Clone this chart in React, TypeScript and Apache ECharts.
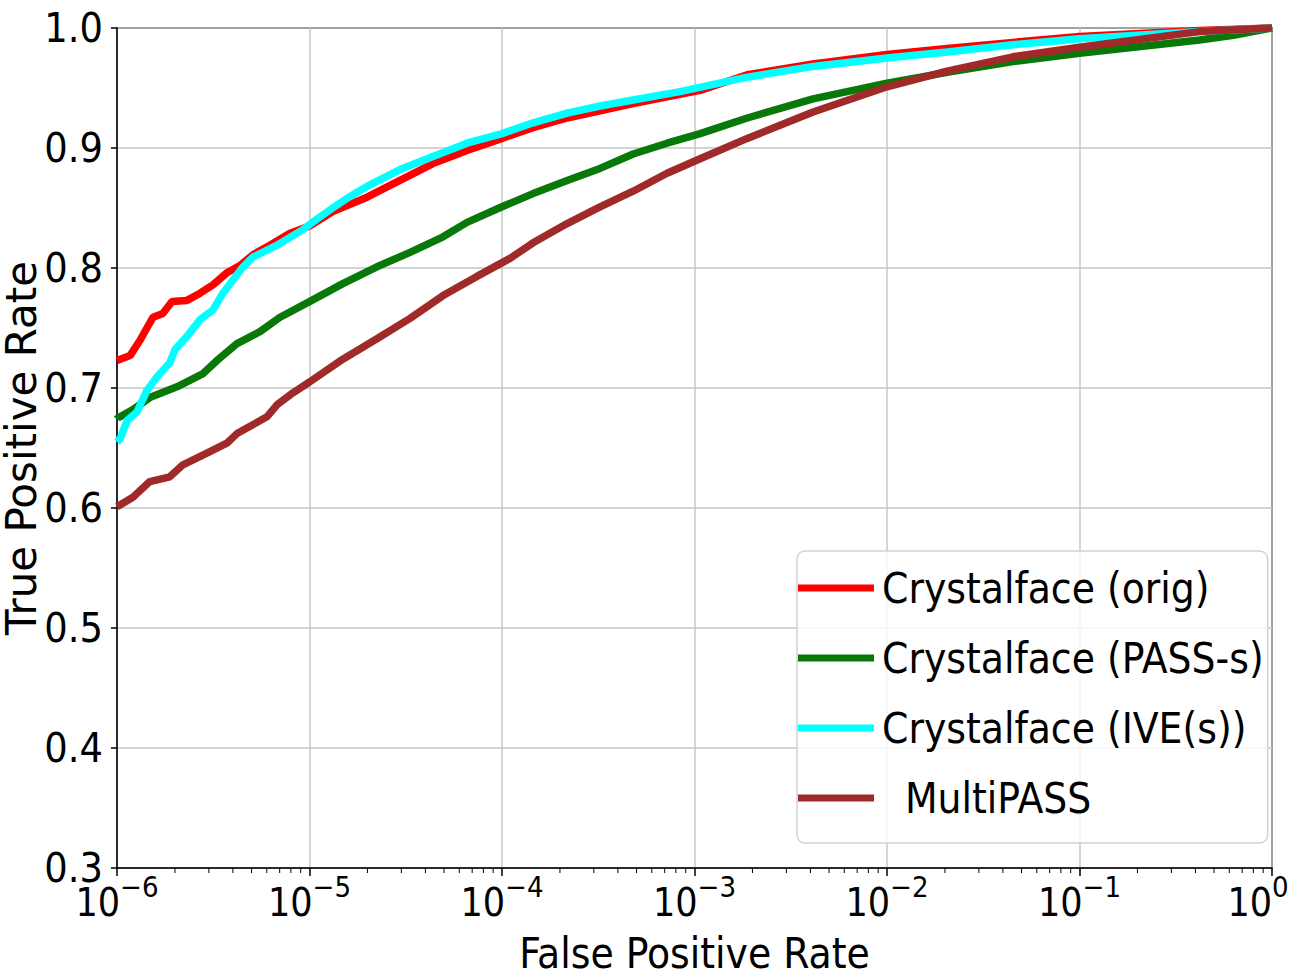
import React, { useEffect, useRef } from "react";
import * as echarts from "echarts";

const seriesNames = ["Crystalface (orig)", "Crystalface (PASS-s)", "Crystalface (IVE(s))", "MultiPASS"];
const seriesColors = ["#ff0000", "#087808", "#00ffff", "#a02a2a"];

const origData: [number, number][] = [
  [1e-6, 0.723], [1.17e-6, 0.727], [1.32e-6, 0.74], [1.43e-6, 0.75], [1.54e-6, 0.759], [1.73e-6, 0.762],
  [1.93e-6, 0.772], [2.31e-6, 0.773], [2.7e-6, 0.779], [3.15e-6, 0.786], [3.72e-6, 0.796], [4.35e-6, 0.802],
  [5.08e-6, 0.811], [6.23e-6, 0.819], [7.92e-6, 0.829], [1e-5, 0.835], [1.15e-5, 0.841], [1.32e-5, 0.847],
  [1.99e-5, 0.859], [2.95e-5, 0.873], [4.38e-5, 0.887], [6.58e-5, 0.898], [1e-4, 0.908], [1.45e-4, 0.917],
  [2.18e-4, 0.925], [4.8e-4, 0.937], [1.07e-3, 0.948], [1.88e-3, 0.961], [4.13e-3, 0.97], [1e-2, 0.978],
  [2.05e-2, 0.983], [4.51e-2, 0.988], [0.1, 0.993], [0.42, 0.998], [1, 1.0],
];

const passData: [number, number][] = [
  [1e-6, 0.674], [1.01e-6, 0.675], [1.21e-6, 0.682], [1.48e-6, 0.692], [2.05e-6, 0.701], [2.8e-6, 0.712],
  [3.31e-6, 0.723], [4.2e-6, 0.737], [5.53e-6, 0.747], [7.03e-6, 0.759], [1e-5, 0.772], [1.49e-5, 0.787],
  [2.24e-5, 0.801], [3.33e-5, 0.813], [4.94e-5, 0.826], [6.58e-5, 0.838], [1e-4, 0.851], [1.45e-4, 0.862],
  [2.18e-4, 0.873], [3.23e-4, 0.883], [4.8e-4, 0.895], [7.2e-4, 0.904], [1.07e-3, 0.912], [1.88e-3, 0.925],
  [4.13e-3, 0.941], [1e-2, 0.954], [2.05e-2, 0.963], [4.51e-2, 0.972], [0.1, 0.979], [0.42, 0.99],
  [0.63, 0.994], [1, 1.0],
];

const iveData: [number, number][] = [
  [1e-6, 0.655], [1.04e-6, 0.658], [1.13e-6, 0.673], [1.27e-6, 0.68], [1.43e-6, 0.698], [1.61e-6, 0.709],
  [1.88e-6, 0.721], [2.0e-6, 0.732], [2.31e-6, 0.743], [2.7e-6, 0.757], [3.15e-6, 0.765], [3.55e-6, 0.779],
  [4.0e-6, 0.79], [4.52e-6, 0.801], [5.08e-6, 0.809], [6.78e-6, 0.819], [9.25e-6, 0.832], [1.1e-5, 0.841],
  [1.32e-5, 0.85], [1.6e-5, 0.859], [1.99e-5, 0.868], [2.95e-5, 0.882], [4.38e-5, 0.893], [6.58e-5, 0.904],
  [1e-4, 0.912], [1.45e-4, 0.921], [2.18e-4, 0.929], [3.23e-4, 0.935], [4.8e-4, 0.94], [8.41e-4, 0.947],
  [1.88e-3, 0.959], [4.13e-3, 0.968], [1e-2, 0.975], [2.05e-2, 0.98], [4.51e-2, 0.986], [0.1, 0.991],
  [0.42, 0.997], [1, 1.0],
];

const multiData: [number, number][] = [
  [1e-6, 0.601], [1.21e-6, 0.609], [1.48e-6, 0.622], [1.88e-6, 0.626], [2.2e-6, 0.636], [3.04e-6, 0.647],
  [3.72e-6, 0.654], [4.2e-6, 0.662], [6.01e-6, 0.676], [6.78e-6, 0.686], [8.21e-6, 0.696], [1e-5, 0.705],
  [1.49e-5, 0.724], [2.24e-5, 0.741], [3.33e-5, 0.758], [4.94e-5, 0.777], [7.41e-5, 0.793], [1.1e-4, 0.808],
  [1.45e-4, 0.821], [2.18e-4, 0.837], [3.23e-4, 0.851], [4.8e-4, 0.864], [7.2e-4, 0.879], [1.07e-3, 0.891],
  [1.88e-3, 0.908], [4.13e-3, 0.93], [1e-2, 0.951], [2.05e-2, 0.964], [4.51e-2, 0.976], [0.1, 0.984],
  [0.42, 0.997], [1, 1.0],
];

const decades = [1e-6, 1e-5, 1e-4, 1e-3, 1e-2, 1e-1];
const minorMultipliers = [2, 3, 4, 5, 6, 7, 8, 9];
const yTickLabels = ["0.3", "0.4", "0.5", "0.6", "0.7", "0.8", "0.9", "1.0"];

const FONT = "'DejaVu Sans Condensed', 'Liberation Sans Narrow', 'DejaVu Sans', sans-serif";

export default function App() {
  const ref = useRef<HTMLDivElement>(null);

  useEffect(() => {
    document.body.style.margin = "0";
    if (!ref.current) return;
    const chart = echarts.init(ref.current, null, { renderer: "svg" });

    const minorTicks: [number, number][] = [];
    decades.forEach((d) => minorMultipliers.forEach((m) => minorTicks.push([d * m, 0.3])));

    const allData = [origData, passData, iveData, multiData];

    const option: any = {
      animation: false,
      backgroundColor: "#fff",
      grid: {
        left: 117,
        right: 21,
        top: 28,
        bottom: 111,
        containLabel: false,
        outerBoundsMode: "none",
        show: true,
        borderColor: "#000",
        borderWidth: 1.5,
      },
      xAxis: {
        type: "log",
        logBase: 10,
        min: 1e-6,
        max: 1,
        name: "False Positive Rate",
        nameLocation: "middle",
        nameGap: 64,
        nameMoveOverlap: false,
        nameTextStyle: { fontFamily: FONT, fontSize: 42, color: "#000" },
        axisLine: { lineStyle: { color: "#000", width: 1.5 } },
        axisTick: { show: true, inside: false, length: 8, lineStyle: { color: "#000", width: 1.5 } },
        splitLine: { show: true, lineStyle: { color: "#c6c6c6", width: 1.5 } },
        axisLabel: {
          margin: 4,
          color: "#000",
          fontFamily: FONT,
          formatter: (v: number) => {
            const e = Math.round(Math.log10(v));
            const s = e < 0 ? "\u2212" + -e : String(e);
            return e === 0 ? "{b|10}{t|" + s + "}" : "{b|10}{s|" + s + "}";
          },
          rich: {
            b: { fontFamily: FONT, fontSize: 39, lineHeight: 50, verticalAlign: "bottom", color: "#000" },
            s: { fontFamily: FONT, fontSize: 29, lineHeight: 29, verticalAlign: "top", color: "#000" },
            t: {
              fontFamily: FONT,
              fontSize: 29,
              lineHeight: 29,
              verticalAlign: "top",
              color: "#000",
              padding: [0, 28, 0, 0],
            },
          },
        },
      },
      yAxis: {
        type: "value",
        min: 0.3,
        max: 1.0,
        interval: 0.1,
        name: "True Positive Rate",
        nameLocation: "middle",
        nameRotate: 90,
        nameGap: 78,
        nameMoveOverlap: false,
        nameTextStyle: { fontFamily: "'DejaVu Sans', sans-serif", fontSize: 42, lineHeight: 36, color: "#000" },
        axisLine: { lineStyle: { color: "#000", width: 1.5 } },
        axisTick: { show: true, inside: false, length: 6, lineStyle: { color: "#000", width: 1.5 } },
        splitLine: { show: true, lineStyle: { color: "#c6c6c6", width: 1.5 } },
        axisLabel: {
          margin: 14,
          color: "#000",
          fontFamily: FONT,
          fontSize: 41,
          formatter: (v: number) => {
            const idx = Math.round((v - 0.3) * 10);
            return yTickLabels[idx] ?? v.toFixed(1);
          },
        },
      },
      legend: {
        orient: "vertical",
        left: 797,
        top: 551,
        icon: "rect",
        itemWidth: 76,
        itemHeight: 7,
        itemGap: 28,
        padding: [16, 4, 24, 1],
        backgroundColor: "rgba(255,255,255,0.8)",
        borderColor: "#d2d2d2",
        borderWidth: 1.5,
        borderRadius: 8,
        data: seriesNames,
        formatter: (name: string) => (name === "MultiPASS" ? "{m|" + name + "}" : "{n|" + name + "}"),
        textStyle: {
          fontFamily: FONT,
          fontSize: 42,
          color: "#000",
          rich: {
            n: { fontFamily: FONT, fontSize: 42, color: "#000", padding: [0, 0, 0, 3] },
            m: { fontFamily: FONT, fontSize: 42, color: "#000", padding: [0, 0, 0, 26] },
          },
        },
      },
      series: [
        ...seriesNames.map((name, i) => ({
          name,
          type: "line",
          data: allData[i],
          showSymbol: false,
          symbol: "none",
          color: seriesColors[i],
          lineStyle: { color: seriesColors[i], width: 7.5 },
          z: 3 + i,
          clip: false,
        })),
        {
          type: "custom",
          silent: true,
          clip: false,
          z: 10,
          data: minorTicks,
          encode: { x: 0, y: 1 },
          renderItem: (_params: any, api: any) => {
            const p = api.coord([api.value(0), api.value(1)]);
            return {
              type: "line",
              shape: { x1: p[0], y1: p[1], x2: p[0], y2: p[1] + 5 },
              style: { stroke: "#000", lineWidth: 1 },
            };
          },
        },
      ],
    };

    chart.setOption(option);
    return () => chart.dispose();
  }, []);

  return <div ref={ref} style={{ width: 1293, height: 979, position: "absolute", left: 0, top: 0 }} />;
}
